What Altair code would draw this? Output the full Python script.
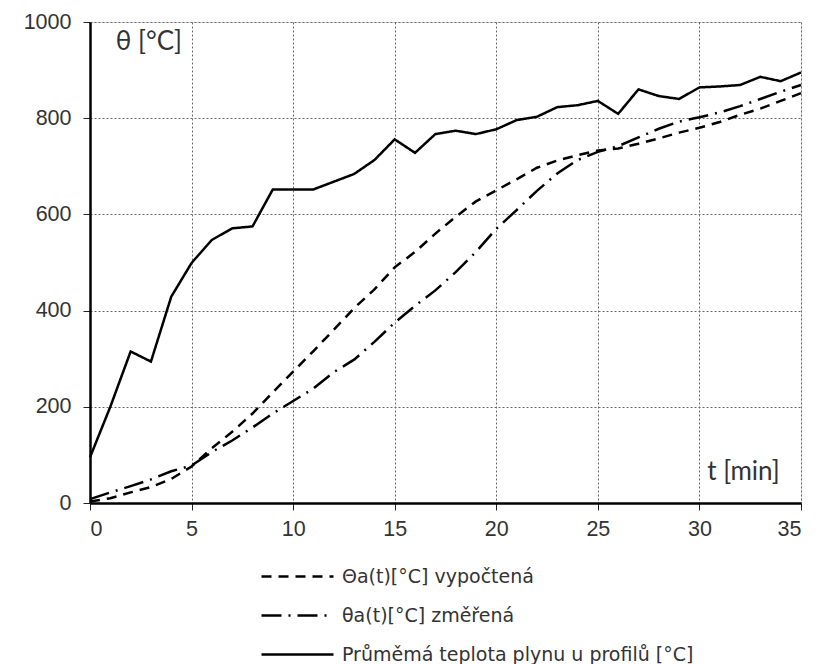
import altair as alt
import pandas as pd

t = list(range(0, 36))
calc = [3, 10, 22, 33, 50, 76, 114, 148, 186, 230, 273, 316, 360, 405, 444, 490, 522, 560,
        595, 627, 650, 673, 697, 712, 723, 733, 737, 747, 758, 770, 780, 792, 807, 820, 836, 852]
meas = [8, 22, 35, 49, 66, 78, 106, 130, 157, 186, 212, 238, 272, 298, 335, 375, 410, 442,
        480, 522, 570, 609, 649, 685, 713, 730, 742, 760, 778, 793, 802, 812, 825, 840, 855, 869]
gas = [95, 200, 315, 294, 429, 499, 547, 571, 575, 652, 652, 652, 668, 684, 713, 756, 728, 767,
       774, 767, 777, 796, 803, 823, 827, 836, 809, 860, 846, 840, 864, 866, 869, 886, 877, 895]

names = ["Θa(t)[°C] vypočtená", "θa(t)[°C] změřená", "Průměmá teplota plynu u profilů [°C]"]
dashes = [[10, 7], [20, 7, 2, 7], [1, 0]]

rows = []
for name, vals in zip(names, [calc, meas, gas]):
    for ti, v in zip(t, vals):
        rows.append({"t": ti, "v": v, "s": name})
df = pd.DataFrame(rows)

xs = alt.Scale(domain=[0, 35], nice=False)
ys = alt.Scale(domain=[0, 1000], nice=False)

axis_common = dict(title=None, labelFontSize=21.5, labelColor="#333", labelFont="Liberation Sans",
                   tickColor="#222", domainColor="black", domainWidth=2.5,
                   gridColor="#666", gridDash=[2, 2], gridWidth=1)

lines = alt.Chart(df).mark_line(color="black", strokeWidth=2.5).encode(
    x=alt.X("t:Q", scale=xs, axis=alt.Axis(values=list(range(0, 36, 5)), tickSize=7,
                                           labelPadding=8, **axis_common)),
    y=alt.Y("v:Q", scale=ys, axis=alt.Axis(values=list(range(0, 1001, 200)), format="d",
                                           tickSize=7, labelPadding=12, **axis_common)),
    strokeDash=alt.StrokeDash("s:N", scale=alt.Scale(domain=names, range=dashes),
                              legend=alt.Legend(title=None, orient="none", legendX=198, legendY=545,
                                                symbolType="M-6,0H6", symbolSize=144,
                                                symbolStrokeColor="black", symbolStrokeWidth=2.5,
                                                labelFontSize=19, labelColor="#333",
                                                labelFont="DejaVu Sans", rowPadding=19,
                                                labelOffset=35, labelLimit=500, padding=0)),
    detail="s:N",
)

labels_df = pd.DataFrame({"x": [2.9, 32.17], "y": [959, 65], "txt": ["θ [°C]", "t [min]"]})
ann = alt.Chart(labels_df).mark_text(font="Lato", fontSize=26, color="#333", align="center",
                                     baseline="middle").encode(
    x=alt.X("x:Q", scale=xs), y=alt.Y("y:Q", scale=ys), text="txt:N")

chart = alt.layer(lines, ann).properties(
    width=711, height=481,
    padding={"left": 90, "top": 22, "right": 18, "bottom": 161},
    autosize=alt.AutoSizeParams(type="none"),
).configure_view(stroke="#444", strokeWidth=2).configure(background="white")

chart.save("out.html", embed_options={"renderer": "svg", "actions": False})
